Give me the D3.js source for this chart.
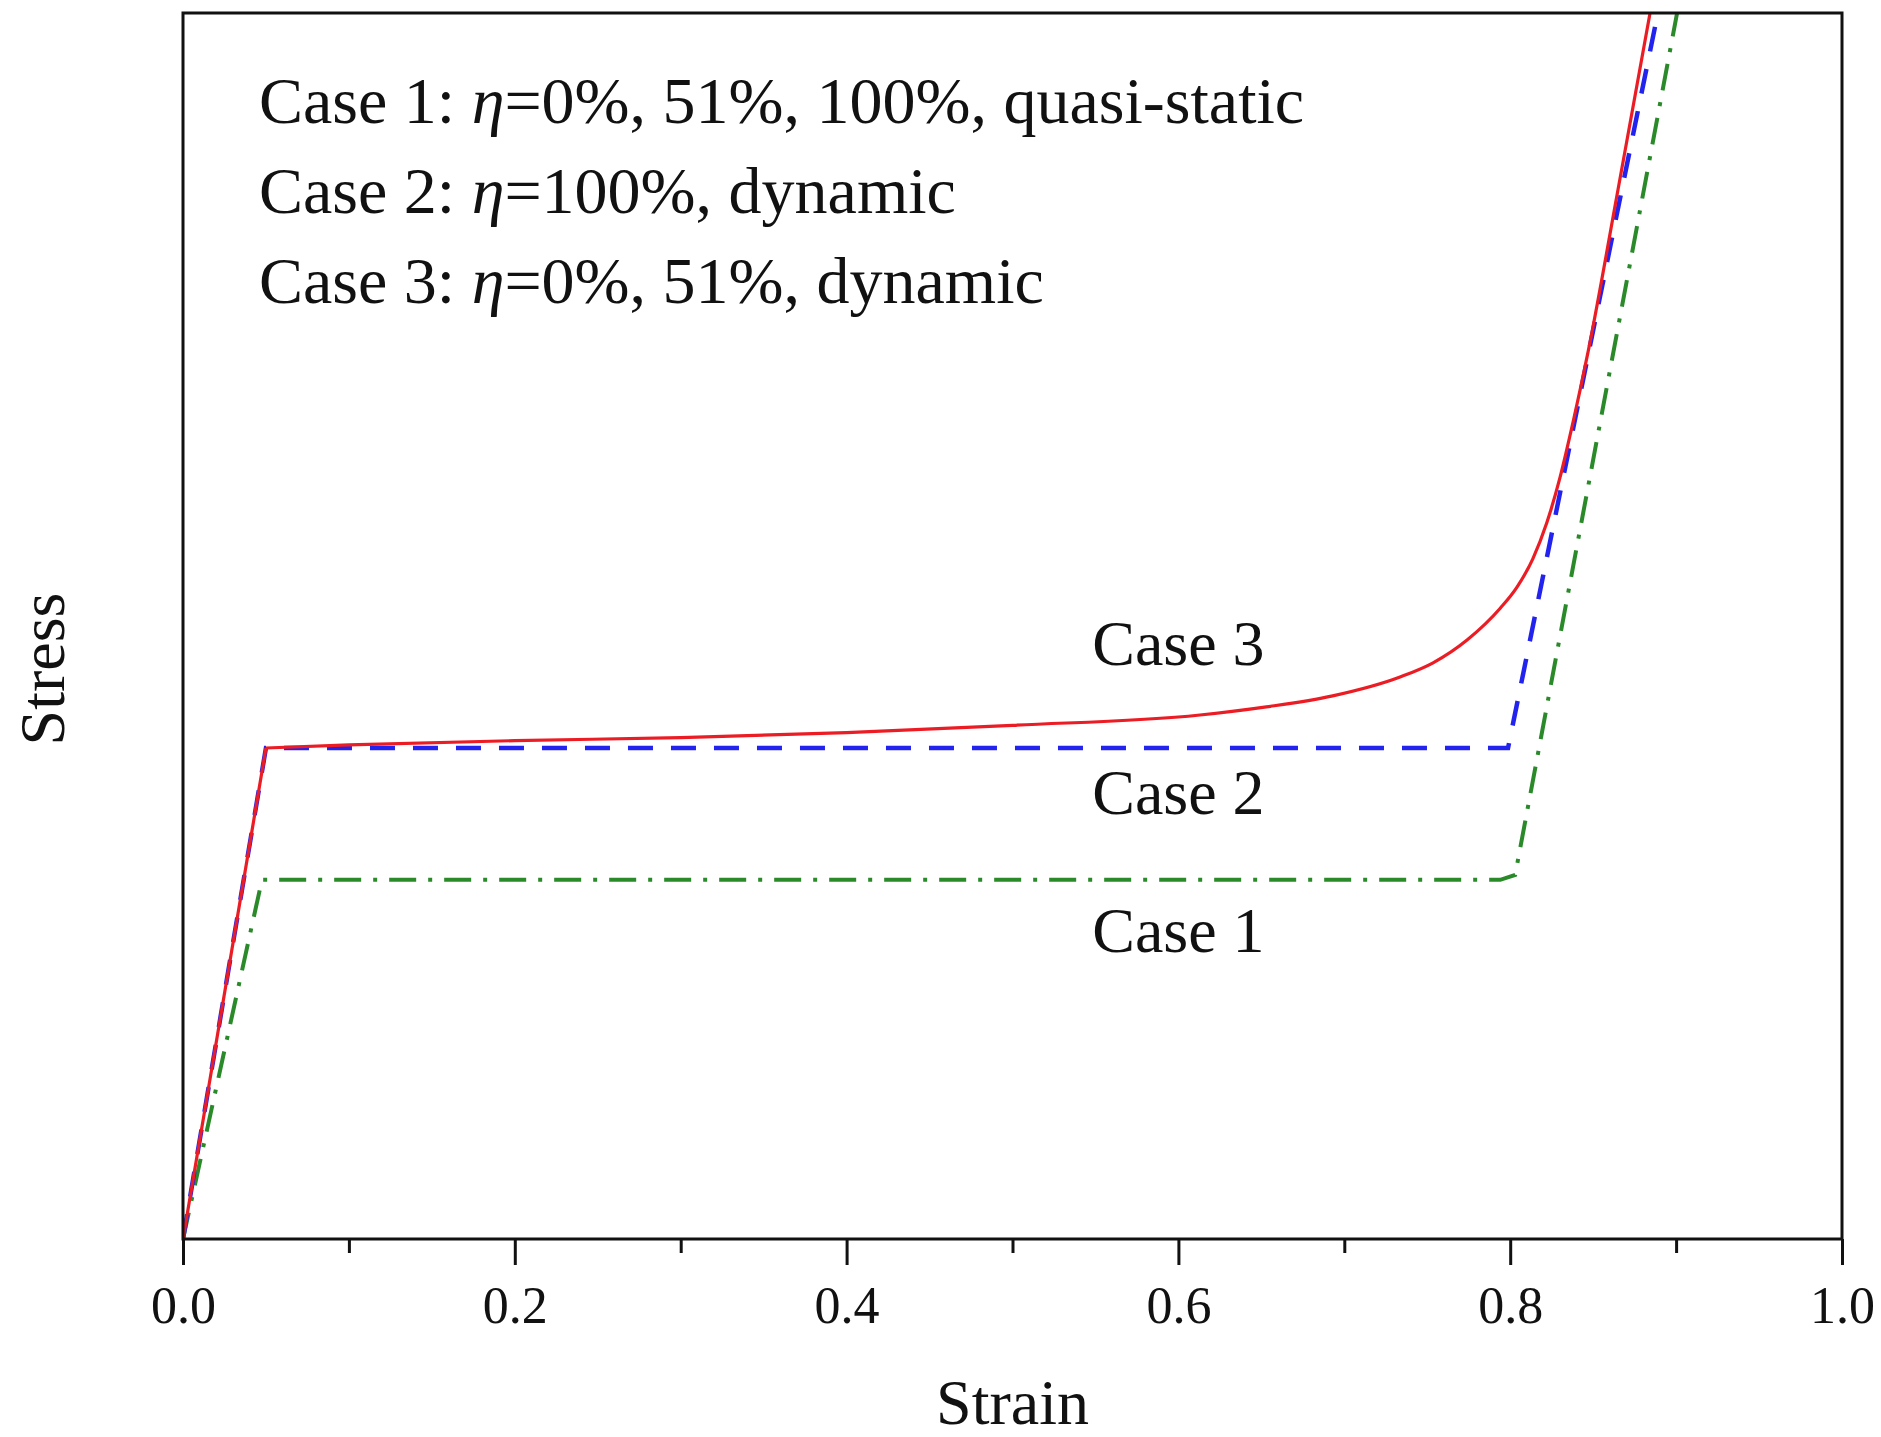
<!DOCTYPE html>
<html>
<head>
<meta charset="utf-8">
<script src="https://cdn.jsdelivr.net/npm/d3@7"></script>
<style>
  body { margin: 0; background: #fff; }
  text { font-family: "Liberation Serif", "DejaVu Serif", serif; fill: #111; }
</style>
</head>
<body>
<svg width="1881" height="1437"></svg>
<script>
// x ticks
const majorTicks = [0.0, 0.2, 0.4, 0.6, 0.8, 1.0];
const minorTicks = [0.1, 0.3, 0.5, 0.7, 0.9];

// Case 1: quasi-static (green dash-dot)
const case1Strain = [0, 0.0476, 0.794, 0.803, 0.9006];
const case1Stress = [0, 0.293, 0.293, 0.297, 1.0];

// Case 2: eta=100%, dynamic (blue dashed)
const case2Strain = [0, 0.05, 0.7987, 0.889];
const case2Stress = [0, 0.4005, 0.4005, 1.0];

// Case 3: eta=0%, 51%, dynamic (red solid)
const case3Strain = [0, 0.05, 0.1, 0.2, 0.3, 0.4, 0.5, 0.613, 0.653, 0.693, 0.7336, 0.7535, 0.774, 0.794, 0.804, 0.8137, 0.822, 0.830, 0.838, 0.847, 0.865, 0.8843];
const case3Stress = [0, 0.4005, 0.403, 0.4065, 0.409, 0.413, 0.419, 0.4274, 0.434, 0.443, 0.4584, 0.470, 0.4886, 0.5145, 0.5315, 0.555, 0.584, 0.621, 0.667, 0.724, 0.856, 1.0];

const legendLines = [
  ["Case 1: ", "η", "=0%, 51%, 100%, quasi-static"],
  ["Case 2: ", "η", "=100%, dynamic"],
  ["Case 3: ", "η", "=0%, 51%, dynamic"]
];
const caseLabels = ["Case 3", "Case 2", "Case 1"];
const caseLabelStrain = [0.6, 0.6, 0.6];
const caseLabelStress = [0.468, 0.347, 0.234];

const margin = {top: 13, right: 39, bottom: 198, left: 183};
const width = 1881 - margin.left - margin.right,
      height = 1437 - margin.top - margin.bottom;

const svg = d3.select("svg");
const g = svg.append("g")
    .attr("transform", `translate(${margin.left}, ${margin.top})`);

const x = d3.scaleLinear().domain([0, 1]).range([0, width]);
const y = d3.scaleLinear().domain([0, 1]).range([height, 0]);

g.append("clipPath").attr("id", "plotClip")
  .append("rect").attr("width", width).attr("height", height);

// minor ticks
g.append("g")
  .attr("transform", `translate(0, ${height})`)
  .call(d3.axisBottom(x).tickValues(minorTicks).tickSize(14).tickFormat(""))
  .call(a => a.select(".domain").remove())
  .selectAll("line").attr("stroke", "#111").attr("stroke-width", 3);

// major ticks
g.append("g")
  .attr("transform", `translate(0, ${height})`)
  .call(d3.axisBottom(x).tickValues(majorTicks).tickSize(26).tickPadding(21).tickFormat(d3.format(".1f")))
  .call(a => a.select(".domain").remove())
  .call(a => a.selectAll("line").attr("stroke", "#111").attr("stroke-width", 3))
  .selectAll("text")
    .attr("font-size", "52px")
    .attr("font-family", "Liberation Serif")
    .attr("fill", "#111");

const series = [
  {xs: case1Strain, ys: case1Stress, color: "#2a8a2a", w: 4, dash: "27,12,4,12"},
  {xs: case2Strain, ys: case2Stress, color: "#2323f0", w: 4.5, dash: "25,18"}
];

const line = d3.line().x(d => x(d[0])).y(d => y(d[1]));

series.forEach(s => {
  g.append("path")
    .attr("clip-path", "url(#plotClip)")
    .attr("d", line.curve(d3.curveLinear)(s.xs.map((v, i) => [v, s.ys[i]])))
    .attr("fill", "none")
    .attr("stroke", s.color)
    .attr("stroke-width", s.w)
    .attr("stroke-dasharray", s.dash);
});

// red: straight elastic part, then smooth densification curve
const redPts = case3Strain.map((v, i) => [v, case3Stress[i]]);
g.append("path")
  .attr("clip-path", "url(#plotClip)")
  .attr("d", line.curve(d3.curveLinear)(redPts.slice(0, 2)) + line.curve(d3.curveMonotoneX)(redPts.slice(1)))
  .attr("fill", "none")
  .attr("stroke", "#ec1c24")
  .attr("stroke-width", 3.2);

// frame
g.append("rect")
  .attr("width", width).attr("height", height)
  .attr("fill", "none").attr("stroke", "#111").attr("stroke-width", 3);

// legend text
const legend = g.append("g");
legendLines.forEach((parts, i) => {
  const t = legend.append("text")
    .attr("x", 76)
    .attr("y", 110 + i * 90)
    .attr("font-size", "66px");
  t.append("tspan").text(parts[0]);
  t.append("tspan").attr("font-style", "italic").text(parts[1]);
  t.append("tspan").text(parts[2]);
});

// case labels
caseLabels.forEach((c, i) => {
  g.append("text")
    .attr("x", x(caseLabelStrain[i]))
    .attr("y", y(caseLabelStress[i]))
    .attr("font-size", "64px")
    .attr("text-anchor", "middle")
    .text(c);
});

// X label
g.append("text")
  .attr("x", width / 2)
  .attr("y", height + 185)
  .attr("font-size", "64px")
  .attr("text-anchor", "middle")
  .text("Strain");

// Y label
g.append("text")
  .attr("x", -(669 - margin.top))
  .attr("y", -119)
  .attr("font-size", "64px")
  .attr("text-anchor", "middle")
  .attr("transform", "rotate(-90)")
  .text("Stress");
</script>
</body>
</html>
